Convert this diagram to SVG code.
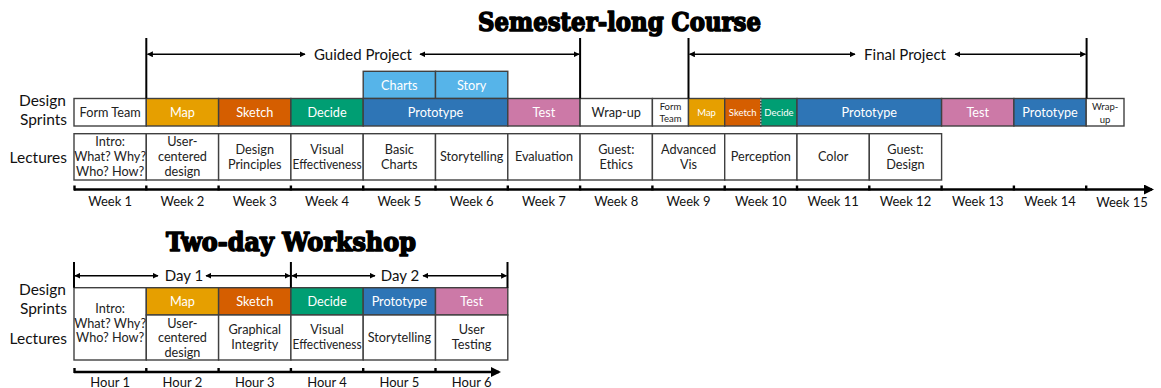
<svg xmlns="http://www.w3.org/2000/svg" width="1161" height="388" viewBox="0 0 1161 388">
<defs>
<style>
.cell{stroke:#404040;stroke-width:1.4}
.wf{fill:#fff}
.map{fill:#E69F00}
.sk{fill:#D55E00}
.de{fill:#009E73}
.pr{fill:#2E75B6}
.te{fill:#CC79A7}
.ch{fill:#56B4E9}
text{font-family:Lato,"Open Sans","Liberation Sans",sans-serif}
.t{font-size:12.7px;text-anchor:middle;fill:#222}
.tw{font-size:12.7px;text-anchor:middle;fill:#fff}
.sm{font-size:9.5px;text-anchor:middle;fill:#222}
.smw{font-size:9.5px;text-anchor:middle;fill:#fff}
.lab{font-size:15.5px;text-anchor:end;fill:#111}
.ax{font-size:13px;text-anchor:middle;fill:#111}
.proj{font-size:15px;text-anchor:middle;fill:#111}
.title{font-family:"DejaVu Serif","Liberation Serif",serif;font-weight:bold;font-size:26px;fill:#000;stroke:#000;stroke-width:1.6;stroke-linejoin:round;text-anchor:start}
.vl{stroke:#000;stroke-width:2;fill:none}
.arr{stroke:#000;stroke-width:1.5;fill:none;marker-start:url(#ah);marker-end:url(#ah)}
.axis{stroke:#000;stroke-width:2.6;fill:none}
.tick{stroke:#000;stroke-width:2.4}
</style>
<marker id="ah" viewBox="0 0 10 10" refX="9" refY="5" markerWidth="6" markerHeight="6" markerUnits="userSpaceOnUse" orient="auto-start-reverse">
<path d="M0,0 L10,5 L0,10 z" fill="#000"/>
</marker>
<marker id="axh" viewBox="0 0 10 10" refX="8" refY="5" markerWidth="12" markerHeight="10" markerUnits="userSpaceOnUse" orient="auto">
<path d="M0,0 L10,5 L0,10 z" fill="#000"/>
</marker>
</defs>

<g id="titles">
<text class="title" x="478" y="31" textLength="283" lengthAdjust="spacingAndGlyphs">Semester-long Course</text>
<text class="title" x="166" y="251" textLength="250" lengthAdjust="spacingAndGlyphs">Two-day Workshop</text>
</g>

<g id="row-labels">
<text class="lab" x="66" y="106">Design</text>
<text class="lab" x="67" y="124.5">Sprints</text>
<text class="lab" x="67" y="162.5">Lectures</text>
<text class="lab" x="66" y="295">Design</text>
<text class="lab" x="67" y="314">Sprints</text>
<text class="lab" x="67" y="344">Lectures</text>
</g>

<!-- Semester sprint row -->
<g id="s-formteam"><rect class="cell wf" x="74" y="98.5" width="72.3" height="27.5"/><text class="t" x="110.15" y="116.5">Form Team</text></g>
<g id="s-map"><rect class="cell map" x="146.3" y="98.5" width="72.3" height="27.5"/><text class="tw" x="182.45" y="116.5">Map</text></g>
<g id="s-sketch"><rect class="cell sk" x="218.6" y="98.5" width="72.3" height="27.5"/><text class="tw" x="254.75" y="116.5">Sketch</text></g>
<g id="s-decide"><rect class="cell de" x="290.9" y="98.5" width="72.3" height="27.5"/><text class="tw" x="327.05" y="116.5">Decide</text></g>
<g id="s-charts"><rect class="cell ch" x="363.2" y="71.3" width="72.3" height="27.2"/><text class="tw" x="399.35" y="89.5">Charts</text></g>
<g id="s-story"><rect class="cell ch" x="435.5" y="71.3" width="72.3" height="27.2"/><text class="tw" x="471.65" y="89.5">Story</text></g>
<g id="s-prototype1"><rect class="cell pr" x="363.2" y="98.5" width="144.6" height="27.5"/><text class="tw" x="435.5" y="116.5">Prototype</text></g>
<g id="s-test1"><rect class="cell te" x="507.8" y="98.5" width="72.3" height="27.5"/><text class="tw" x="543.95" y="116.5">Test</text></g>
<g id="s-wrapup1"><rect class="cell wf" x="580.1" y="98.5" width="72.3" height="27.5"/><text class="t" x="616.25" y="116.5">Wrap-up</text></g>
<g id="s-formteam2"><rect class="cell wf" x="652.4" y="98.5" width="36.1" height="27.5"/><text class="sm" x="670.45" y="110">Form</text><text class="sm" x="670.45" y="122">Team</text></g>
<g id="s-map2"><rect class="cell map" x="688.5" y="98.5" width="36.2" height="27.5"/><text class="smw" x="706.6" y="116">Map</text></g>
<g id="s-sketch2"><rect class="cell sk" x="724.7" y="98.5" width="36.1" height="27.5"/><text class="smw" x="742.75" y="116">Sketch</text></g>
<g id="s-decide2"><rect class="cell de" x="760.8" y="98.5" width="36.2" height="27.5"/><text class="smw" x="778.9" y="116">Decide</text></g>
<line x1="760.8" y1="99.5" x2="760.8" y2="125" stroke="#e8e8e8" stroke-width="1" stroke-dasharray="1.5,1.5"/>
<g id="s-prototype2"><rect class="cell pr" x="797" y="98.5" width="144.6" height="27.5"/><text class="tw" x="869.3" y="116.5">Prototype</text></g>
<g id="s-test2"><rect class="cell te" x="941.6" y="98.5" width="72.3" height="27.5"/><text class="tw" x="977.75" y="116.5">Test</text></g>
<g id="s-prototype3"><rect class="cell pr" x="1013.9" y="98.5" width="72.3" height="27.5"/><text class="tw" x="1050.05" y="116.5">Prototype</text></g>
<g id="s-wrapup2"><rect class="cell wf" x="1086.2" y="98.5" width="37.8" height="27.5"/><text class="sm" x="1105.1" y="110">Wrap-</text><text class="sm" x="1105.1" y="122.5">up</text></g>

<!-- Semester lectures row -->
<g id="l-intro"><rect class="cell wf" x="74" y="133.7" width="72.3" height="46.3"/><text class="t" x="110.15" y="145.7">Intro:</text><text class="t" x="110.15" y="161">What? Why?</text><text class="t" x="110.15" y="176.3">Who? How?</text></g>
<g id="l-ucd"><rect class="cell wf" x="146.3" y="133.7" width="72.3" height="46.3"/><text class="t" x="182.45" y="145.7">User-</text><text class="t" x="182.45" y="161">centered</text><text class="t" x="182.45" y="176.3">design</text></g>
<g id="l-principles"><rect class="cell wf" x="218.6" y="133.7" width="72.3" height="46.3"/><text class="t" x="254.75" y="153.8">Design</text><text class="t" x="254.75" y="169">Principles</text></g>
<g id="l-visual"><rect class="cell wf" x="290.9" y="133.7" width="72.3" height="46.3"/><text class="t" x="327.05" y="153.8">Visual</text><text class="t" x="327.05" y="169" textLength="69" lengthAdjust="spacingAndGlyphs">Effectiveness</text></g>
<g id="l-basic"><rect class="cell wf" x="363.2" y="133.7" width="72.3" height="46.3"/><text class="t" x="399.35" y="153.8">Basic</text><text class="t" x="399.35" y="169">Charts</text></g>
<g id="l-story"><rect class="cell wf" x="435.5" y="133.7" width="72.3" height="46.3"/><text class="t" x="471.65" y="161.3">Storytelling</text></g>
<g id="l-eval"><rect class="cell wf" x="507.8" y="133.7" width="72.3" height="46.3"/><text class="t" x="543.95" y="161.3">Evaluation</text></g>
<g id="l-ethics"><rect class="cell wf" x="580.1" y="133.7" width="72.3" height="46.3"/><text class="t" x="616.25" y="153.8">Guest:</text><text class="t" x="616.25" y="169">Ethics</text></g>
<g id="l-advanced"><rect class="cell wf" x="652.4" y="133.7" width="72.3" height="46.3"/><text class="t" x="688.55" y="153.8">Advanced</text><text class="t" x="688.55" y="169">Vis</text></g>
<g id="l-perception"><rect class="cell wf" x="724.7" y="133.7" width="72.3" height="46.3"/><text class="t" x="760.85" y="161.3">Perception</text></g>
<g id="l-color"><rect class="cell wf" x="797" y="133.7" width="72.3" height="46.3"/><text class="t" x="833.15" y="161.3">Color</text></g>
<g id="l-design"><rect class="cell wf" x="869.3" y="133.7" width="72.3" height="46.3"/><text class="t" x="905.45" y="153.8">Guest:</text><text class="t" x="905.45" y="169">Design</text></g>

<!-- Workshop -->
<g id="w-intro"><rect class="cell wf" x="74" y="287.7" width="72.3" height="72.3"/><text class="t" x="110.15" y="312.5">Intro:</text><text class="t" x="110.15" y="327.5">What? Why?</text><text class="t" x="110.15" y="342">Who? How?</text></g>
<g id="w-map"><rect class="cell map" x="146.3" y="287.7" width="72.3" height="27.3"/><text class="tw" x="182.45" y="305.5">Map</text></g>
<g id="w-sketch"><rect class="cell sk" x="218.6" y="287.7" width="72.3" height="27.3"/><text class="tw" x="254.75" y="305.5">Sketch</text></g>
<g id="w-decide"><rect class="cell de" x="290.9" y="287.7" width="72.3" height="27.3"/><text class="tw" x="327.05" y="305.5">Decide</text></g>
<g id="w-prototype"><rect class="cell pr" x="363.2" y="287.7" width="72.3" height="27.3"/><text class="tw" x="399.35" y="305.5">Prototype</text></g>
<g id="w-test"><rect class="cell te" x="435.5" y="287.7" width="72.3" height="27.3"/><text class="tw" x="471.65" y="305.5">Test</text></g>
<g id="w-ucd"><rect class="cell wf" x="146.3" y="315" width="72.3" height="45"/><text class="t" x="182.45" y="327.5">User-</text><text class="t" x="182.45" y="342.3">centered</text><text class="t" x="182.45" y="357">design</text></g>
<g id="w-graphical"><rect class="cell wf" x="218.6" y="315" width="72.3" height="45"/><text class="t" x="254.75" y="333.5">Graphical</text><text class="t" x="254.75" y="349">Integrity</text></g>
<g id="w-visual"><rect class="cell wf" x="290.9" y="315" width="72.3" height="45"/><text class="t" x="327.05" y="333.5">Visual</text><text class="t" x="327.05" y="349" textLength="69" lengthAdjust="spacingAndGlyphs">Effectiveness</text></g>
<g id="w-story"><rect class="cell wf" x="363.2" y="315" width="72.3" height="45"/><text class="t" x="399.35" y="342.3">Storytelling</text></g>
<g id="w-testing"><rect class="cell wf" x="435.5" y="315" width="72.3" height="45"/><text class="t" x="471.65" y="334">User</text><text class="t" x="471.65" y="349.3">Testing</text></g>

<g id="connectors">
<line class="vl" x1="146.3" y1="38" x2="146.3" y2="98.5"/>
<line class="vl" x1="580.1" y1="38" x2="580.1" y2="98.5"/>
<line class="vl" x1="688.5" y1="38" x2="688.5" y2="98.5"/>
<line class="vl" x1="1086.6" y1="38" x2="1086.6" y2="98.5"/>
<line class="arr" x1="147.5" y1="54.3" x2="305" y2="54.3"/>
<line class="arr" x1="420" y1="54.3" x2="579" y2="54.3"/>
<line class="arr" x1="689.5" y1="54.3" x2="855" y2="54.3"/>
<line class="arr" x1="955" y1="54.3" x2="1085.5" y2="54.3"/>
<line class="vl" x1="74" y1="262" x2="74" y2="287.7"/>
<line class="vl" x1="290.9" y1="262" x2="290.9" y2="287.7"/>
<line class="vl" x1="507.5" y1="262" x2="507.5" y2="287.7"/>
<line class="arr" x1="75" y1="275.7" x2="158" y2="275.7"/>
<line class="arr" x1="206" y1="275.7" x2="290" y2="275.7"/>
<line class="arr" x1="292" y1="275.7" x2="375" y2="275.7"/>
<line class="arr" x1="423" y1="275.7" x2="506.5" y2="275.7"/>
<line class="axis" x1="74" y1="189.5" x2="1152" y2="189.5" marker-end="url(#axh)"/>
<g class="tick">
<line x1="74.5" y1="185.5" x2="74.5" y2="190.5"/><line x1="146.3" y1="185.5" x2="146.3" y2="190.5"/><line x1="218.6" y1="185.5" x2="218.6" y2="190.5"/><line x1="290.9" y1="185.5" x2="290.9" y2="190.5"/><line x1="363.2" y1="185.5" x2="363.2" y2="190.5"/><line x1="435.5" y1="185.5" x2="435.5" y2="190.5"/><line x1="507.8" y1="185.5" x2="507.8" y2="190.5"/><line x1="580.1" y1="185.5" x2="580.1" y2="190.5"/><line x1="652.4" y1="185.5" x2="652.4" y2="190.5"/><line x1="724.7" y1="185.5" x2="724.7" y2="190.5"/><line x1="797" y1="185.5" x2="797" y2="190.5"/><line x1="869.3" y1="185.5" x2="869.3" y2="190.5"/><line x1="941.6" y1="185.5" x2="941.6" y2="190.5"/><line x1="1013.9" y1="185.5" x2="1013.9" y2="190.5"/><line x1="1086.2" y1="185.5" x2="1086.2" y2="190.5"/>
</g>
<line class="axis" x1="74" y1="372" x2="499" y2="372" marker-end="url(#axh)"/>
<g class="tick">
<line x1="74.5" y1="368" x2="74.5" y2="373"/><line x1="146.3" y1="368" x2="146.3" y2="373"/><line x1="218.6" y1="368" x2="218.6" y2="373"/><line x1="290.9" y1="368" x2="290.9" y2="373"/><line x1="363.2" y1="368" x2="363.2" y2="373"/><line x1="435.5" y1="368" x2="435.5" y2="373"/>
</g>
</g>

<g id="arrow-labels">
<text class="proj" x="363" y="59.5">Guided Project</text>
<text class="proj" x="905" y="59.5">Final Project</text>
<text class="proj" x="184" y="281">Day 1</text>
<text class="proj" x="400" y="281">Day 2</text>
</g>

<g id="axis-labels">
<text class="ax" x="110.15" y="206">Week 1</text>
<text class="ax" x="182.45" y="206">Week 2</text>
<text class="ax" x="254.75" y="206">Week 3</text>
<text class="ax" x="327.05" y="206">Week 4</text>
<text class="ax" x="399.35" y="206">Week 5</text>
<text class="ax" x="471.65" y="206">Week 6</text>
<text class="ax" x="543.95" y="206">Week 7</text>
<text class="ax" x="616.25" y="206">Week 8</text>
<text class="ax" x="688.55" y="206">Week 9</text>
<text class="ax" x="760.85" y="206">Week 10</text>
<text class="ax" x="833.15" y="206">Week 11</text>
<text class="ax" x="905.45" y="206">Week 12</text>
<text class="ax" x="977.75" y="206">Week 13</text>
<text class="ax" x="1050.05" y="206">Week 14</text>
<text class="ax" x="1122" y="207">Week 15</text>
<text class="ax" x="110.15" y="386.5">Hour 1</text>
<text class="ax" x="182.45" y="386.5">Hour 2</text>
<text class="ax" x="254.75" y="386.5">Hour 3</text>
<text class="ax" x="327.05" y="386.5">Hour 4</text>
<text class="ax" x="399.35" y="386.5">Hour 5</text>
<text class="ax" x="471.65" y="386.5">Hour 6</text>
</g>
</svg>
